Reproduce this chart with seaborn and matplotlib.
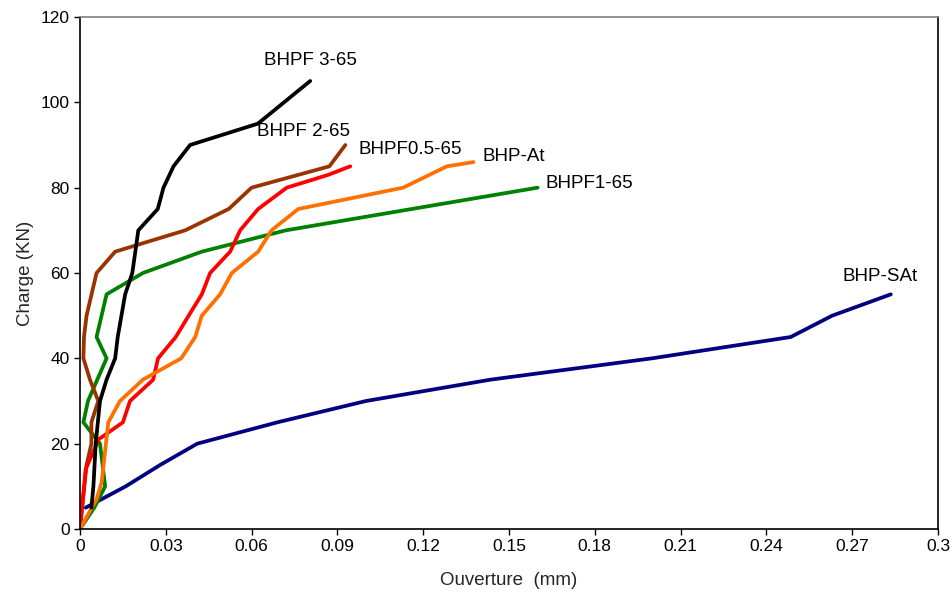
import matplotlib
matplotlib.use("Agg")
import matplotlib.pyplot as plt
import seaborn as sns
import pandas as pd
from matplotlib.ticker import FuncFormatter

# ouverture (mm) / charge (KN) for each beam
sat_x = [0.002, 0.016, 0.028, 0.041, 0.069, 0.100, 0.1435, 0.200, 0.2485, 0.263, 0.2835]
sat_y = [5, 10, 15, 20, 25, 30, 35, 40, 45, 50, 55]

f1_x = [0.0, 0.005, 0.0088, 0.007, 0.0012, 0.0028, 0.0093, 0.0058, 0.0093, 0.022, 0.0426, 0.072, 0.160]
f1_y = [0, 5, 10, 20, 25, 30, 40, 45, 55, 60, 65, 70, 80]

f2_x = [0.0, 0.0023, 0.004, 0.004, 0.0064, 0.0035, 0.0012, 0.0014, 0.0023, 0.0058, 0.0123, 0.0368, 0.052, 0.060, 0.0872, 0.0928]
f2_y = [0, 15, 20, 25, 30, 35, 40, 45, 50, 60, 65, 70, 75, 80, 85, 90]

f05_x = [0.0, 0.001, 0.002, 0.0065, 0.015, 0.0175, 0.0256, 0.0273, 0.0335, 0.038, 0.0426, 0.0455, 0.0525, 0.056, 0.0623, 0.0723, 0.0868, 0.0945]
f05_y = [0, 7, 14, 21, 25, 30, 35, 40, 45, 50, 55, 60, 65, 70, 75, 80, 83, 85]

at_x = [0.0, 0.0058, 0.0076, 0.0099, 0.014, 0.022, 0.0354, 0.0403, 0.0426, 0.049, 0.0531, 0.0623, 0.067, 0.0763, 0.113, 0.1283, 0.1376]
at_y = [0, 7, 11, 25, 30, 35, 40, 45, 50, 55, 60, 65, 70, 75, 80, 85, 86]

f3_x = [0.004, 0.0047, 0.0055, 0.007, 0.0093, 0.0123, 0.0132, 0.0145, 0.0158, 0.0183, 0.0204, 0.0272, 0.0292, 0.0327, 0.0385, 0.0622, 0.0805]
f3_y = [5, 10, 20, 30, 35, 40, 45, 50, 55, 60, 70, 75, 80, 85, 90, 95, 105]

series = [
    ("BHP-SAt", sat_x, sat_y, "#000080"),
    ("BHPF1-65", f1_x, f1_y, "#008000"),
    ("BHPF 2-65", f2_x, f2_y, "#993300"),
    ("BHPF0.5-65", f05_x, f05_y, "#FF0000"),
    ("BHP-At", at_x, at_y, "#FF7000"),
    ("BHPF 3-65", f3_x, f3_y, "#000000"),
]

# label anchor (left edge, vertical centre) in data units
labels = {
    "BHPF 3-65": (0.0644, 109.7),
    "BHPF 2-65": (0.062, 93.2),
    "BHPF0.5-65": (0.0973, 89.0),
    "BHP-At": (0.1407, 87.3),
    "BHPF1-65": (0.1628, 81.0),
    "BHP-SAt": (0.2667, 59.2),
}

sns.set_style("white")
plt.rcParams["font.family"] = ["Liberation Sans", "DejaVu Sans"]

fig = plt.figure(figsize=(9.52, 5.96), dpi=100)
ax = fig.add_axes([0.084, 0.1124, 0.9013, 0.8591])

for name, xs, ys, col in series:
    df = pd.DataFrame({"x": xs, "y": ys})
    sns.lineplot(data=df, x="x", y="y", sort=False, estimator=None,
                 color=col, linewidth=2.7, ax=ax)
    lx, ly = labels[name]
    ax.text(lx, ly, name, fontsize=13.5, va="center", ha="left", color="black")

ax.set_xlim(0, 0.3)
ax.set_ylim(0, 120)
ax.set_xticks([i * 0.03 for i in range(11)])
ax.set_yticks(range(0, 121, 20))
ax.xaxis.set_major_formatter(FuncFormatter(lambda v, p: f"{v:.2f}".rstrip("0").rstrip(".") if v else "0"))
ax.tick_params(axis="both", direction="out", length=4, width=1, labelsize=12.5,
               bottom=True, left=True, colors="black")
ax.set_xlabel("Ouverture  (mm)", fontsize=13.5, labelpad=13)
ax.set_ylabel("Charge (KN)", fontsize=13.5, labelpad=5)

for side in ["left", "bottom", "right"]:
    ax.spines[side].set_color("black")
    ax.spines[side].set_linewidth(1.2)
ax.spines["top"].set_color("#808080")
ax.spines["top"].set_linewidth(1.2)

fig.savefig("out.png", dpi=100)
